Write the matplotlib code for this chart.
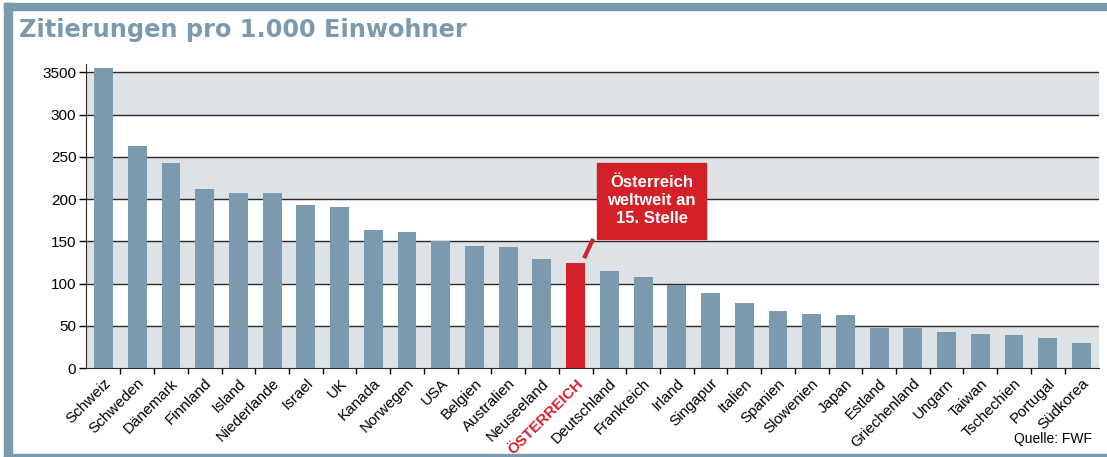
import numpy as np
import matplotlib
matplotlib.use("Agg")
from matplotlib import pyplot as plt
from matplotlib.patches import Rectangle

# data
countries = ["Schweiz", "Schweden", "Dänemark", "Finnland", "Island", "Niederlande",
             "Israel", "UK", "Kanada", "Norwegen", "USA", "Belgien", "Australien",
             "Neuseeland", "ÖSTERREICH", "Deutschland", "Frankreich", "Irland",
             "Singapur", "Italien", "Spanien", "Slowenien", "Japan", "Estland",
             "Griechenland", "Ungarn", "Taiwan", "Tschechien", "Portugal", "Südkorea"]
values = [355, 263, 243, 212, 207, 207, 193, 191, 163, 161, 150, 145, 143, 129,
          124, 115, 108, 98, 89, 77, 68, 64, 63, 47, 47, 43, 40, 39, 36, 30]
ytick_vals = [0, 50, 100, 150, 200, 250, 300, 350]
ytick_labels = ["0", "50", "100", "150", "200", "250", "300", "3500"]
highlight = "ÖSTERREICH"

blue = "#7b9aae"
red = "#d42129"
band = "#dde2e6"

plt.rcParams['font.family'] = ['Liberation Sans', 'DejaVu Sans']

fig = plt.figure(figsize=(11.07, 4.57), dpi=100)

# frame around the graphic
fig.patches.append(Rectangle((4 / 1107, 0), 8 / 1107, 1 - 3 / 457, transform=fig.transFigure,
                             color=blue, zorder=0))
fig.patches.append(Rectangle((4 / 1107, 1 - 10 / 457), 1, 7 / 457, transform=fig.transFigure,
                             color=blue, zorder=0))
fig.patches.append(Rectangle((4 / 1107, 0), 1, 3 / 457, transform=fig.transFigure,
                             color=blue, zorder=0))

fig.text(19 / 1107, 1 - 30 / 457, "Zitierungen pro 1.000 Einwohner", family="DejaVu Sans",
         fontsize=17.3, fontweight="bold", color=blue, va="center", ha="left")

ax = fig.add_axes([86 / 1107, 1 - 368 / 457, (1099 - 86) / 1107, (368 - 64) / 457])
x = np.arange(len(countries))
colors = [red if c == highlight else blue for c in countries]
ax.bar(x, values, width=0.56, color=colors, zorder=3)

# alternating bands + grid lines
for i in range(0, 7, 2):
    ax.axhspan(i * 50, i * 50 + 50, color=band, zorder=0, lw=0)
for v in ytick_vals[1:]:
    ax.axhline(v, color="#2a2a2a", lw=1, zorder=1)

ax.set_xlim(-0.52, len(countries) - 0.48)
ax.set_ylim(0, 360)
ax.set_yticks(ytick_vals)
ax.set_yticklabels(ytick_labels, fontsize=11)
ax.tick_params(axis="y", direction="out", length=5, width=1, pad=2)

ax.set_xticks(x)
ax.set_xticklabels(countries, rotation=45, ha="right", rotation_mode="anchor", fontsize=11)
ax.set_xticks(x[:-1] + 0.5, minor=True)
ax.tick_params(axis="x", which="major", length=0, pad=6)
ax.tick_params(axis="x", which="minor", direction="out", length=4, width=1)
for lab in ax.get_xticklabels():
    if lab.get_text() == highlight:
        lab.set_color(red)
        lab.set_fontweight("bold")

for s in ["top", "right"]:
    ax.spines[s].set_visible(False)
ax.spines["left"].set_color("#2a2a2a")
ax.spines["bottom"].set_color("#2a2a2a")

# callout
idx = countries.index(highlight)
ax.add_patch(Rectangle((idx + 0.64, 153), 3.23, 90, color=red, zorder=5, clip_on=False))
ax.text(idx + 2.255, 198, "Österreich\nweltweit an\n15. Stelle", color="white",
        fontsize=12, fontweight="bold", ha="center", va="center", linespacing=1.25, zorder=6)
ax.plot([idx + 0.52, idx + 0.25], [153, 130], color=red, lw=3, zorder=5,
        solid_capstyle="butt")

fig.text(1092 / 1107, 1 - 439 / 457, "Quelle: FWF", fontsize=10, ha="right", va="center")

fig.savefig("out.png", dpi=100)
